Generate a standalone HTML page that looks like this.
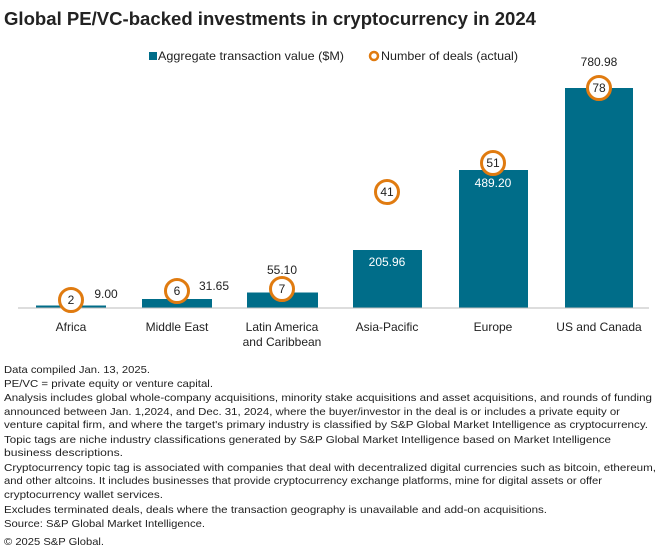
<!DOCTYPE html><html><head><style>
body{margin:0;width:660px;height:559px;background:#fff;font-family:"Liberation Sans",sans-serif;color:#222;position:relative;overflow:hidden}
</style></head><body>
<svg width="660" height="559" style="position:absolute;left:0;top:0" font-family="Liberation Sans, sans-serif" font-size="12" fill="#222">
<text x="4" y="25" font-size="18.5" font-weight="bold" textLength="532" lengthAdjust="spacingAndGlyphs">Global PE/VC-backed investments in cryptocurrency in 2024</text>
<rect x="149" y="52" width="8" height="8" fill="#006d89"/>
<text x="158" y="60" textLength="186" lengthAdjust="spacingAndGlyphs">Aggregate transaction value ($M)</text>
<circle cx="374" cy="56" r="4" fill="#fff" stroke="#e07b10" stroke-width="2.5"/>
<text x="381" y="60" textLength="137" lengthAdjust="spacingAndGlyphs">Number of deals (actual)</text>
<g fill="#006d89">
<rect x="36" y="305.5" width="70" height="2.5"/>
<rect x="142" y="299" width="70" height="9"/>
<rect x="247" y="292.5" width="71" height="15.5"/>
<rect x="353" y="250" width="69" height="58"/>
<rect x="459" y="170" width="69" height="138"/>
<rect x="565" y="88" width="68" height="220"/>
</g>
<line x1="18" y1="308" x2="649" y2="308" stroke="#bbb" stroke-width="1"/>
<g text-anchor="middle">
<text x="106" y="298">9.00</text>
<text x="214" y="290">31.65</text>
<text x="282" y="274">55.10</text>
<text x="387" y="266" fill="#fff">205.96</text>
<text x="493" y="187" fill="#fff">489.20</text>
<text x="599" y="66">780.98</text>
<text x="71" y="331">Africa</text>
<text x="177" y="331">Middle East</text>
<text x="282" y="331">Latin America</text>
<text x="282" y="346">and Caribbean</text>
<text x="387" y="331">Asia-Pacific</text>
<text x="493" y="331">Europe</text>
<text x="599" y="331">US and Canada</text>
</g>
<g fill="#fff" stroke="#e07b10" stroke-width="3">
<circle cx="71" cy="300" r="11.5"/><circle cx="177" cy="291" r="11.5"/><circle cx="282" cy="289" r="11.5"/>
<circle cx="387" cy="192" r="11.5"/><circle cx="493" cy="163" r="11.5"/><circle cx="599" cy="88" r="11.5"/>
</g>
<g text-anchor="middle">
<text x="71" y="304">2</text><text x="177" y="295">6</text><text x="282" y="293">7</text>
<text x="387" y="196">41</text><text x="493" y="167">51</text><text x="599" y="92">78</text>
</g>
<g font-size="10.5" lengthAdjust="spacingAndGlyphs">
<text x="4" y="373" textLength="146" lengthAdjust="spacingAndGlyphs">Data compiled Jan. 13, 2025.</text>
<text x="4" y="387" textLength="209" lengthAdjust="spacingAndGlyphs">PE/VC = private equity or venture capital.</text>
<text x="4" y="401" textLength="648" lengthAdjust="spacingAndGlyphs">Analysis includes global whole-company acquisitions, minority stake acquisitions and asset acquisitions, and rounds of funding</text>
<text x="4" y="415" textLength="616" lengthAdjust="spacingAndGlyphs">announced between Jan. 1,2024, and Dec. 31, 2024, where the buyer/investor in the deal is or includes a private equity or</text>
<text x="4" y="428" textLength="644" lengthAdjust="spacingAndGlyphs">venture capital firm, and where the target's primary industry is classified by S&amp;P Global Market Intelligence as cryptocurrency.</text>
<text x="4" y="443" textLength="607" lengthAdjust="spacingAndGlyphs">Topic tags are niche industry classifications generated by S&amp;P Global Market Intelligence based on Market Intelligence</text>
<text x="4" y="456" textLength="119" lengthAdjust="spacingAndGlyphs">business descriptions.</text>
<text x="4" y="471" textLength="652" lengthAdjust="spacingAndGlyphs">Cryptocurrency topic tag is associated with companies that deal with decentralized digital currencies such as bitcoin, ethereum,</text>
<text x="4" y="484" textLength="598" lengthAdjust="spacingAndGlyphs">and other altcoins. It includes businesses that provide cryptocurrency exchange platforms, mine for digital assets or offer</text>
<text x="4" y="498" textLength="159" lengthAdjust="spacingAndGlyphs">cryptocurrency wallet services.</text>
<text x="4" y="513" textLength="543" lengthAdjust="spacingAndGlyphs">Excludes terminated deals, deals where the transaction geography is unavailable and add-on acquisitions.</text>
<text x="4" y="527" textLength="201" lengthAdjust="spacingAndGlyphs">Source: S&amp;P Global Market Intelligence.</text>
<text x="4" y="545" textLength="100" lengthAdjust="spacingAndGlyphs">© 2025 S&amp;P Global.</text>
</g>
</svg>
</body></html>
